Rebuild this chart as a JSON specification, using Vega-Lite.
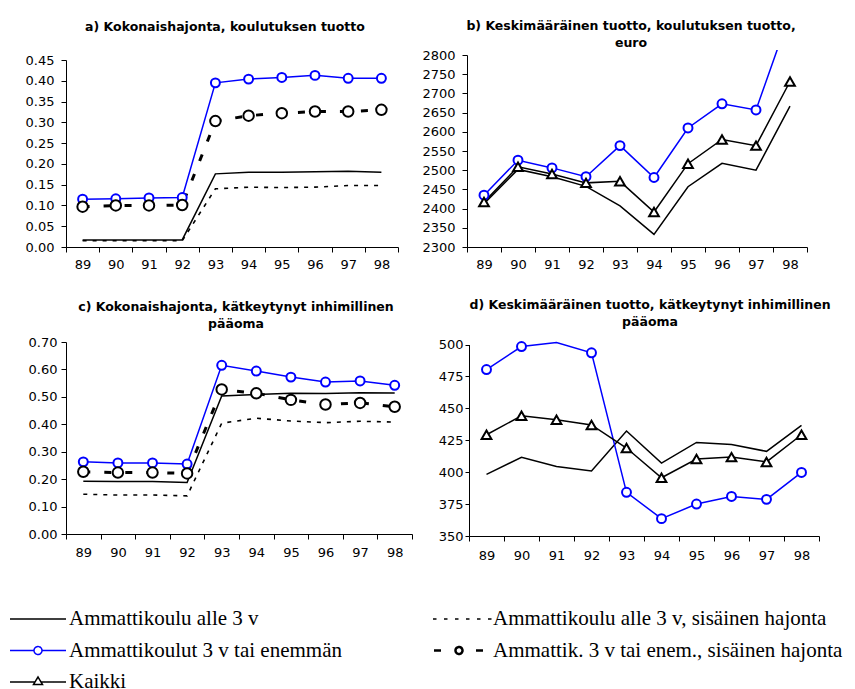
{
  "$schema": "https://vega.github.io/schema/vega-lite/v6.json",
  "background": "white",
  "padding": {"left": 25, "top": 19, "right": 5, "bottom": 5},
  "config": {
    "view": {"stroke": null},
    "font": "DejaVu Sans",
    "axis": {"domainColor": "black", "tickColor": "black", "labelColor": "black", "labelFont": "DejaVu Sans", "labelFontSize": 13, "grid": false, "title": null, "domainWidth": 1, "tickWidth": 1},
    "axisX": {"tickBand": "extent", "labelAngle": 0, "tickSize": 5, "labelPadding": 6},
    "title": {"font": "DejaVu Sans", "fontSize": 12.5, "fontWeight": "bold", "color": "black", "anchor": "middle", "frame": "group", "lineHeight": 17}
  },
  "datasets": {
    "rows": [
      {"panel": "a", "series": "Ammattikoulu alle 3 v", "year": "89", "value": 0.017},
      {"panel": "a", "series": "Ammattikoulu alle 3 v", "year": "90", "value": 0.017},
      {"panel": "a", "series": "Ammattikoulu alle 3 v", "year": "91", "value": 0.017},
      {"panel": "a", "series": "Ammattikoulu alle 3 v", "year": "92", "value": 0.017},
      {"panel": "a", "series": "Ammattikoulu alle 3 v", "year": "93", "value": 0.176},
      {"panel": "a", "series": "Ammattikoulu alle 3 v", "year": "94", "value": 0.180},
      {"panel": "a", "series": "Ammattikoulu alle 3 v", "year": "95", "value": 0.180},
      {"panel": "a", "series": "Ammattikoulu alle 3 v", "year": "96", "value": 0.181},
      {"panel": "a", "series": "Ammattikoulu alle 3 v", "year": "97", "value": 0.182},
      {"panel": "a", "series": "Ammattikoulu alle 3 v", "year": "98", "value": 0.180},
      {"panel": "a", "series": "Ammattikoulu alle 3 v, sisäinen hajonta", "year": "89", "value": 0.015},
      {"panel": "a", "series": "Ammattikoulu alle 3 v, sisäinen hajonta", "year": "90", "value": 0.015},
      {"panel": "a", "series": "Ammattikoulu alle 3 v, sisäinen hajonta", "year": "91", "value": 0.015},
      {"panel": "a", "series": "Ammattikoulu alle 3 v, sisäinen hajonta", "year": "92", "value": 0.015},
      {"panel": "a", "series": "Ammattikoulu alle 3 v, sisäinen hajonta", "year": "93", "value": 0.140},
      {"panel": "a", "series": "Ammattikoulu alle 3 v, sisäinen hajonta", "year": "94", "value": 0.144},
      {"panel": "a", "series": "Ammattikoulu alle 3 v, sisäinen hajonta", "year": "95", "value": 0.143},
      {"panel": "a", "series": "Ammattikoulu alle 3 v, sisäinen hajonta", "year": "96", "value": 0.144},
      {"panel": "a", "series": "Ammattikoulu alle 3 v, sisäinen hajonta", "year": "97", "value": 0.148},
      {"panel": "a", "series": "Ammattikoulu alle 3 v, sisäinen hajonta", "year": "98", "value": 0.148},
      {"panel": "a", "series": "Ammattikoulut 3 v tai enemmän", "year": "89", "value": 0.115},
      {"panel": "a", "series": "Ammattikoulut 3 v tai enemmän", "year": "90", "value": 0.116},
      {"panel": "a", "series": "Ammattikoulut 3 v tai enemmän", "year": "91", "value": 0.118},
      {"panel": "a", "series": "Ammattikoulut 3 v tai enemmän", "year": "92", "value": 0.119},
      {"panel": "a", "series": "Ammattikoulut 3 v tai enemmän", "year": "93", "value": 0.395},
      {"panel": "a", "series": "Ammattikoulut 3 v tai enemmän", "year": "94", "value": 0.404},
      {"panel": "a", "series": "Ammattikoulut 3 v tai enemmän", "year": "95", "value": 0.408},
      {"panel": "a", "series": "Ammattikoulut 3 v tai enemmän", "year": "96", "value": 0.413},
      {"panel": "a", "series": "Ammattikoulut 3 v tai enemmän", "year": "97", "value": 0.406},
      {"panel": "a", "series": "Ammattikoulut 3 v tai enemmän", "year": "98", "value": 0.406},
      {"panel": "a", "series": "Ammattik. 3 v tai enem., sisäinen hajonta", "year": "89", "value": 0.097},
      {"panel": "a", "series": "Ammattik. 3 v tai enem., sisäinen hajonta", "year": "90", "value": 0.100},
      {"panel": "a", "series": "Ammattik. 3 v tai enem., sisäinen hajonta", "year": "91", "value": 0.100},
      {"panel": "a", "series": "Ammattik. 3 v tai enem., sisäinen hajonta", "year": "92", "value": 0.101},
      {"panel": "a", "series": "Ammattik. 3 v tai enem., sisäinen hajonta", "year": "93", "value": 0.303},
      {"panel": "a", "series": "Ammattik. 3 v tai enem., sisäinen hajonta", "year": "94", "value": 0.316},
      {"panel": "a", "series": "Ammattik. 3 v tai enem., sisäinen hajonta", "year": "95", "value": 0.322},
      {"panel": "a", "series": "Ammattik. 3 v tai enem., sisäinen hajonta", "year": "96", "value": 0.326},
      {"panel": "a", "series": "Ammattik. 3 v tai enem., sisäinen hajonta", "year": "97", "value": 0.326},
      {"panel": "a", "series": "Ammattik. 3 v tai enem., sisäinen hajonta", "year": "98", "value": 0.330},

      {"panel": "b", "series": "Ammattikoulu alle 3 v", "year": "89", "value": 2413},
      {"panel": "b", "series": "Ammattikoulu alle 3 v", "year": "90", "value": 2502},
      {"panel": "b", "series": "Ammattikoulu alle 3 v", "year": "91", "value": 2483},
      {"panel": "b", "series": "Ammattikoulu alle 3 v", "year": "92", "value": 2458},
      {"panel": "b", "series": "Ammattikoulu alle 3 v", "year": "93", "value": 2407},
      {"panel": "b", "series": "Ammattikoulu alle 3 v", "year": "94", "value": 2333},
      {"panel": "b", "series": "Ammattikoulu alle 3 v", "year": "95", "value": 2457},
      {"panel": "b", "series": "Ammattikoulu alle 3 v", "year": "96", "value": 2518},
      {"panel": "b", "series": "Ammattikoulu alle 3 v", "year": "97", "value": 2500},
      {"panel": "b", "series": "Ammattikoulu alle 3 v", "year": "98", "value": 2667},
      {"panel": "b", "series": "Ammattikoulut 3 v tai enemmän", "year": "89", "value": 2435},
      {"panel": "b", "series": "Ammattikoulut 3 v tai enemmän", "year": "90", "value": 2526},
      {"panel": "b", "series": "Ammattikoulut 3 v tai enemmän", "year": "91", "value": 2506},
      {"panel": "b", "series": "Ammattikoulut 3 v tai enemmän", "year": "92", "value": 2483},
      {"panel": "b", "series": "Ammattikoulut 3 v tai enemmän", "year": "93", "value": 2564},
      {"panel": "b", "series": "Ammattikoulut 3 v tai enemmän", "year": "94", "value": 2481},
      {"panel": "b", "series": "Ammattikoulut 3 v tai enemmän", "year": "95", "value": 2610},
      {"panel": "b", "series": "Ammattikoulut 3 v tai enemmän", "year": "96", "value": 2673},
      {"panel": "b", "series": "Ammattikoulut 3 v tai enemmän", "year": "97", "value": 2657},
      {"panel": "b", "series": "Ammattikoulut 3 v tai enemmän", "year": "98", "value": 2908},
      {"panel": "b", "series": "Kaikki", "year": "89", "value": 2417},
      {"panel": "b", "series": "Kaikki", "year": "90", "value": 2509},
      {"panel": "b", "series": "Kaikki", "year": "91", "value": 2490},
      {"panel": "b", "series": "Kaikki", "year": "92", "value": 2467},
      {"panel": "b", "series": "Kaikki", "year": "93", "value": 2471},
      {"panel": "b", "series": "Kaikki", "year": "94", "value": 2391},
      {"panel": "b", "series": "Kaikki", "year": "95", "value": 2517},
      {"panel": "b", "series": "Kaikki", "year": "96", "value": 2580},
      {"panel": "b", "series": "Kaikki", "year": "97", "value": 2564},
      {"panel": "b", "series": "Kaikki", "year": "98", "value": 2731},

      {"panel": "c", "series": "Ammattikoulu alle 3 v", "year": "89", "value": 0.192},
      {"panel": "c", "series": "Ammattikoulu alle 3 v", "year": "90", "value": 0.191},
      {"panel": "c", "series": "Ammattikoulu alle 3 v", "year": "91", "value": 0.191},
      {"panel": "c", "series": "Ammattikoulu alle 3 v", "year": "92", "value": 0.188},
      {"panel": "c", "series": "Ammattikoulu alle 3 v", "year": "93", "value": 0.503},
      {"panel": "c", "series": "Ammattikoulu alle 3 v", "year": "94", "value": 0.509},
      {"panel": "c", "series": "Ammattikoulu alle 3 v", "year": "95", "value": 0.513},
      {"panel": "c", "series": "Ammattikoulu alle 3 v", "year": "96", "value": 0.512},
      {"panel": "c", "series": "Ammattikoulu alle 3 v", "year": "97", "value": 0.515},
      {"panel": "c", "series": "Ammattikoulu alle 3 v", "year": "98", "value": 0.514},
      {"panel": "c", "series": "Ammattikoulu alle 3 v, sisäinen hajonta", "year": "89", "value": 0.145},
      {"panel": "c", "series": "Ammattikoulu alle 3 v, sisäinen hajonta", "year": "90", "value": 0.142},
      {"panel": "c", "series": "Ammattikoulu alle 3 v, sisäinen hajonta", "year": "91", "value": 0.142},
      {"panel": "c", "series": "Ammattikoulu alle 3 v, sisäinen hajonta", "year": "92", "value": 0.139},
      {"panel": "c", "series": "Ammattikoulu alle 3 v, sisäinen hajonta", "year": "93", "value": 0.404},
      {"panel": "c", "series": "Ammattikoulu alle 3 v, sisäinen hajonta", "year": "94", "value": 0.422},
      {"panel": "c", "series": "Ammattikoulu alle 3 v, sisäinen hajonta", "year": "95", "value": 0.412},
      {"panel": "c", "series": "Ammattikoulu alle 3 v, sisäinen hajonta", "year": "96", "value": 0.406},
      {"panel": "c", "series": "Ammattikoulu alle 3 v, sisäinen hajonta", "year": "97", "value": 0.411},
      {"panel": "c", "series": "Ammattikoulu alle 3 v, sisäinen hajonta", "year": "98", "value": 0.408},
      {"panel": "c", "series": "Ammattikoulut 3 v tai enemmän", "year": "89", "value": 0.263},
      {"panel": "c", "series": "Ammattikoulut 3 v tai enemmän", "year": "90", "value": 0.259},
      {"panel": "c", "series": "Ammattikoulut 3 v tai enemmän", "year": "91", "value": 0.259},
      {"panel": "c", "series": "Ammattikoulut 3 v tai enemmän", "year": "92", "value": 0.255},
      {"panel": "c", "series": "Ammattikoulut 3 v tai enemmän", "year": "93", "value": 0.615},
      {"panel": "c", "series": "Ammattikoulut 3 v tai enemmän", "year": "94", "value": 0.594},
      {"panel": "c", "series": "Ammattikoulut 3 v tai enemmän", "year": "95", "value": 0.572},
      {"panel": "c", "series": "Ammattikoulut 3 v tai enemmän", "year": "96", "value": 0.554},
      {"panel": "c", "series": "Ammattikoulut 3 v tai enemmän", "year": "97", "value": 0.558},
      {"panel": "c", "series": "Ammattikoulut 3 v tai enemmän", "year": "98", "value": 0.542},
      {"panel": "c", "series": "Ammattik. 3 v tai enem., sisäinen hajonta", "year": "89", "value": 0.227},
      {"panel": "c", "series": "Ammattik. 3 v tai enem., sisäinen hajonta", "year": "90", "value": 0.224},
      {"panel": "c", "series": "Ammattik. 3 v tai enem., sisäinen hajonta", "year": "91", "value": 0.224},
      {"panel": "c", "series": "Ammattik. 3 v tai enem., sisäinen hajonta", "year": "92", "value": 0.221},
      {"panel": "c", "series": "Ammattik. 3 v tai enem., sisäinen hajonta", "year": "93", "value": 0.527},
      {"panel": "c", "series": "Ammattik. 3 v tai enem., sisäinen hajonta", "year": "94", "value": 0.513},
      {"panel": "c", "series": "Ammattik. 3 v tai enem., sisäinen hajonta", "year": "95", "value": 0.489},
      {"panel": "c", "series": "Ammattik. 3 v tai enem., sisäinen hajonta", "year": "96", "value": 0.472},
      {"panel": "c", "series": "Ammattik. 3 v tai enem., sisäinen hajonta", "year": "97", "value": 0.478},
      {"panel": "c", "series": "Ammattik. 3 v tai enem., sisäinen hajonta", "year": "98", "value": 0.464},

      {"panel": "d", "series": "Ammattikoulu alle 3 v", "year": "89", "value": 398.3},
      {"panel": "d", "series": "Ammattikoulu alle 3 v", "year": "90", "value": 411.6},
      {"panel": "d", "series": "Ammattikoulu alle 3 v", "year": "91", "value": 404.5},
      {"panel": "d", "series": "Ammattikoulu alle 3 v", "year": "92", "value": 400.9},
      {"panel": "d", "series": "Ammattikoulu alle 3 v", "year": "93", "value": 432.2},
      {"panel": "d", "series": "Ammattikoulu alle 3 v", "year": "94", "value": 407.1},
      {"panel": "d", "series": "Ammattikoulu alle 3 v", "year": "95", "value": 423.3},
      {"panel": "d", "series": "Ammattikoulu alle 3 v", "year": "96", "value": 421.7},
      {"panel": "d", "series": "Ammattikoulu alle 3 v", "year": "97", "value": 416.3},
      {"panel": "d", "series": "Ammattikoulu alle 3 v", "year": "98", "value": 436.6},
      {"panel": "d", "series": "Ammattikoulut 3 v tai enemmän", "year": "89", "value": 480.4},
      {"panel": "d", "series": "Ammattikoulut 3 v tai enemmän", "year": "90", "value": 498.4},
      {"panel": "d", "series": "Ammattikoulut 3 v tai enemmän", "year": "91", "value": 501.6},
      {"panel": "d", "series": "Ammattikoulut 3 v tai enemmän", "year": "92", "value": 493.5},
      {"panel": "d", "series": "Ammattikoulut 3 v tai enemmän", "year": "93", "value": 384.2},
      {"panel": "d", "series": "Ammattikoulut 3 v tai enemmän", "year": "94", "value": 363.6},
      {"panel": "d", "series": "Ammattikoulut 3 v tai enemmän", "year": "95", "value": 375.0},
      {"panel": "d", "series": "Ammattikoulut 3 v tai enemmän", "year": "96", "value": 381.0},
      {"panel": "d", "series": "Ammattikoulut 3 v tai enemmän", "year": "97", "value": 378.7},
      {"panel": "d", "series": "Ammattikoulut 3 v tai enemmän", "year": "98", "value": 399.8},
      {"panel": "d", "series": "Kaikki", "year": "89", "value": 429.3},
      {"panel": "d", "series": "Kaikki", "year": "90", "value": 444.2},
      {"panel": "d", "series": "Kaikki", "year": "91", "value": 441.0},
      {"panel": "d", "series": "Kaikki", "year": "92", "value": 437.0},
      {"panel": "d", "series": "Kaikki", "year": "93", "value": 418.9},
      {"panel": "d", "series": "Kaikki", "year": "94", "value": 395.6},
      {"panel": "d", "series": "Kaikki", "year": "95", "value": 410.3},
      {"panel": "d", "series": "Kaikki", "year": "96", "value": 411.8},
      {"panel": "d", "series": "Kaikki", "year": "97", "value": 408.0},
      {"panel": "d", "series": "Kaikki", "year": "98", "value": 429.3}
    ]
  },
  "spacing": 27,
  "vconcat": [
    {
      "spacing": 22,
      "hconcat": [
        {
          "title": {"text": "a) Kokonaishajonta, koulutuksen tuotto", "offset": 17, "dx": -7},
          "width": 332, "height": 197,
          "data": {"name": "rows"},
          "transform": [{"filter": "datum.panel == 'a'"}],
          "encoding": {
            "x": {"field": "year", "type": "ordinal", "bandPosition": 0.5, "scale": {"type": "band", "paddingInner": 0, "paddingOuter": 0}, "axis": {"labelPadding": 6}},
            "y": {"field": "value", "type": "quantitative", "scale": {"domain": [0, 0.45], "range": [197, 10], "nice": false, "zero": false}, "axis": {"values": [0, 0.05, 0.1, 0.15, 0.2, 0.25, 0.3, 0.35, 0.4, 0.45], "format": ".2f", "tickSize": 5, "labelPadding": 7}},
            "color": {
              "field": "series", "type": "nominal",
              "scale": {"domain": ["Ammattikoulu alle 3 v", "Ammattikoulu alle 3 v, sisäinen hajonta", "Ammattikoulut 3 v tai enemmän", "Ammattik. 3 v tai enem., sisäinen hajonta", "Kaikki"], "range": ["black", "black", "#0000ff", "black", "black"]},
              "legend": {
                "title": null, "orient": "none", "direction": "horizontal", "legendX": -28, "legendY": 569, "columns": 2, "columnPadding": 87, "rowPadding": 10.5,
                "labelFont": "Liberation Serif", "labelFontSize": 21, "labelColor": "black", "labelLimit": 0, "labelOffset": 50,
                "symbolSize": 400, "symbolStrokeWidth": 1.5, "symbolFillColor": "white",
                "encode": {
                  "labels": {
                    "update": {"dx": {"value": 31}}
                  },
                  "symbols": {
                    "update": {
                      "shape": {"signal": "['M-2.8,0H2.8', 'M-2.9,0h0.35m0.75,0h0.35m0.75,0h0.35m0.75,0h0.35m0.75,0h0.35m0.75,0h0.35', 'M-2.8,0H-0.4M0.4,0H2.8M-0.4,0C-0.4,-0.2209 -0.2209,-0.4 0,-0.4C0.2209,-0.4 0.4,-0.2209 0.4,0C0.4,0.2209 0.2209,0.4 0,0.4C-0.2209,0.4 -0.4,0.2209 -0.4,0Z', 'M-2.8,0H-2.1M1.4,0H2.1M-0.65,0C-0.65,-0.1933 -0.4933,-0.35 -0.3,-0.35C-0.1067,-0.35 0.05,-0.1933 0.05,0C0.05,0.1933 -0.1067,0.35 -0.3,0.35C-0.4933,0.35 -0.65,0.1933 -0.65,0Z', 'M-2.8,0H-0.32M0.32,0H2.8M-0.45,0.25L0,-0.5L0.45,0.25Z'][datum.index]"},
                      "stroke": {"signal": "['black', 'black', '#0000ff', 'black', '#000080'][datum.index]"},
                      "strokeWidth": {"signal": "[1.5, 1.5, 1.5, 2.5, 1.5][datum.index]"},
                      "strokeDash": {"value": [1, 0]},
                      "fill": {"value": "white"},
                      "opacity": {"value": 1}
                    }
                  }
                }
              }
            }
          },
          "layer": [
            {
              "transform": [{"filter": {"field": "series", "oneOf": ["Ammattikoulu alle 3 v", "Ammattikoulut 3 v tai enemmän", "Kaikki"]}}],
              "mark": {"type": "line", "clip": true, "strokeWidth": 1.5}
            },
            {
              "transform": [{"filter": {"field": "series", "equal": "Ammattikoulu alle 3 v, sisäinen hajonta"}}],
              "mark": {"type": "line", "clip": true, "strokeWidth": 1.6, "strokeDash": [4, 6]}
            },
            {
              "transform": [{"filter": {"field": "series", "equal": "Ammattik. 3 v tai enem., sisäinen hajonta"}}],
              "mark": {"type": "line", "clip": true, "strokeWidth": 3, "strokeDash": [7, 14]}
            },
            {
              "transform": [{"filter": {"field": "series", "oneOf": ["Ammattikoulut 3 v tai enemmän", "Ammattik. 3 v tai enem., sisäinen hajonta", "Kaikki"]}}, {"filter": "datum.value <= 0.45"}],
              "mark": {"type": "point", "filled": false, "fill": "white", "opacity": 1, "strokeWidth": 2},
              "encoding": {
                "shape": {"field": "series", "type": "nominal", "legend": null, "scale": {"domain": ["Ammattikoulut 3 v tai enemmän", "Ammattik. 3 v tai enem., sisäinen hajonta", "Kaikki"], "range": ["circle", "circle", "triangle-up"]}},
                "size": {"field": "series", "type": "nominal", "legend": null, "scale": {"type": "ordinal", "domain": ["Ammattikoulut 3 v tai enemmän", "Ammattik. 3 v tai enem., sisäinen hajonta", "Kaikki"], "range": [80, 110, 95]}}
              }
            }
          ]
        },
        {
          "title": {"text": ["b) Keskimääräinen tuotto, koulutuksen tuotto,", "euro"], "offset": 0, "dx": -6},
          "width": 340, "height": 197,
          "data": {"name": "rows"},
          "transform": [{"filter": "datum.panel == 'b'"}],
          "encoding": {
            "x": {"field": "year", "type": "ordinal", "bandPosition": 0.5, "scale": {"type": "band", "paddingInner": 0, "paddingOuter": 0}, "axis": {"labelPadding": 6}},
            "y": {"field": "value", "type": "quantitative", "scale": {"domain": [2300, 2800], "range": [197, 5], "nice": false, "zero": false}, "axis": {"values": [2300, 2350, 2400, 2450, 2500, 2550, 2600, 2650, 2700, 2750, 2800], "format": "d", "tickSize": 5, "labelPadding": 7}},
            "color": {"field": "series", "type": "nominal", "legend": null, "scale": {"domain": ["Ammattikoulu alle 3 v", "Ammattikoulu alle 3 v, sisäinen hajonta", "Ammattikoulut 3 v tai enemmän", "Ammattik. 3 v tai enem., sisäinen hajonta", "Kaikki"], "range": ["black", "black", "#0000ff", "black", "black"]}}
          },
          "layer": [
            {
              "mark": {"type": "line", "clip": true, "strokeWidth": 1.5}
            },
            {
              "transform": [{"filter": {"field": "series", "oneOf": ["Ammattikoulut 3 v tai enemmän", "Ammattik. 3 v tai enem., sisäinen hajonta", "Kaikki"]}}, {"filter": "datum.value <= 2800"}],
              "mark": {"type": "point", "filled": false, "fill": "white", "opacity": 1, "strokeWidth": 2},
              "encoding": {
                "shape": {"field": "series", "type": "nominal", "legend": null, "scale": {"domain": ["Ammattikoulut 3 v tai enemmän", "Ammattik. 3 v tai enem., sisäinen hajonta", "Kaikki"], "range": ["circle", "circle", "triangle-up"]}},
                "size": {"field": "series", "type": "nominal", "legend": null, "scale": {"type": "ordinal", "domain": ["Ammattikoulut 3 v tai enemmän", "Ammattik. 3 v tai enem., sisäinen hajonta", "Kaikki"], "range": [80, 110, 95]}}
              }
            }
          ]
        }
      ]
    },
    {
      "spacing": 25,
      "hconcat": [
        {
          "title": {"text": ["c) Kokonaishajonta, kätkeytynyt inhimillinen", "pääoma"], "offset": 6, "dx": -3},
          "width": 346, "height": 194,
          "data": {"name": "rows"},
          "transform": [{"filter": "datum.panel == 'c'"}],
          "encoding": {
            "x": {"field": "year", "type": "ordinal", "bandPosition": 0.5, "scale": {"type": "band", "paddingInner": 0, "paddingOuter": 0}, "axis": {"labelPadding": 7}},
            "y": {"field": "value", "type": "quantitative", "scale": {"domain": [0, 0.7], "range": [194, 2], "nice": false, "zero": false}, "axis": {"values": [0, 0.1, 0.2, 0.3, 0.4, 0.5, 0.6, 0.7], "format": ".2f", "tickSize": 5, "labelPadding": 4}},
            "color": {"field": "series", "type": "nominal", "legend": null, "scale": {"domain": ["Ammattikoulu alle 3 v", "Ammattikoulu alle 3 v, sisäinen hajonta", "Ammattikoulut 3 v tai enemmän", "Ammattik. 3 v tai enem., sisäinen hajonta", "Kaikki"], "range": ["black", "black", "#0000ff", "black", "black"]}}
          },
          "layer": [
            {
              "transform": [{"filter": {"field": "series", "oneOf": ["Ammattikoulu alle 3 v", "Ammattikoulut 3 v tai enemmän", "Kaikki"]}}],
              "mark": {"type": "line", "clip": true, "strokeWidth": 1.5}
            },
            {
              "transform": [{"filter": {"field": "series", "equal": "Ammattikoulu alle 3 v, sisäinen hajonta"}}],
              "mark": {"type": "line", "clip": true, "strokeWidth": 1.6, "strokeDash": [4, 6]}
            },
            {
              "transform": [{"filter": {"field": "series", "equal": "Ammattik. 3 v tai enem., sisäinen hajonta"}}],
              "mark": {"type": "line", "clip": true, "strokeWidth": 3, "strokeDash": [7, 14]}
            },
            {
              "transform": [{"filter": {"field": "series", "oneOf": ["Ammattikoulut 3 v tai enemmän", "Ammattik. 3 v tai enem., sisäinen hajonta", "Kaikki"]}}, {"filter": "datum.value <= 0.7"}],
              "mark": {"type": "point", "filled": false, "fill": "white", "opacity": 1, "strokeWidth": 2},
              "encoding": {
                "shape": {"field": "series", "type": "nominal", "legend": null, "scale": {"domain": ["Ammattikoulut 3 v tai enemmän", "Ammattik. 3 v tai enem., sisäinen hajonta", "Kaikki"], "range": ["circle", "circle", "triangle-up"]}},
                "size": {"field": "series", "type": "nominal", "legend": null, "scale": {"type": "ordinal", "domain": ["Ammattikoulut 3 v tai enemmän", "Ammattik. 3 v tai enem., sisäinen hajonta", "Kaikki"], "range": [80, 110, 95]}}
              }
            }
          ]
        },
        {
          "title": {"text": ["d) Keskimääräinen tuotto, kätkeytynyt inhimillinen", "pääoma"], "offset": 10, "dx": 6},
          "width": 350, "height": 196,
          "data": {"name": "rows"},
          "transform": [{"filter": "datum.panel == 'd'"}],
          "encoding": {
            "x": {"field": "year", "type": "ordinal", "bandPosition": 0.5, "scale": {"type": "band", "paddingInner": 0, "paddingOuter": 0}, "axis": {"labelPadding": 8}},
            "y": {"field": "value", "type": "quantitative", "scale": {"domain": [350, 500], "range": [196, 4.5], "nice": false, "zero": false}, "axis": {"values": [350, 375, 400, 425, 450, 475, 500], "format": "d", "tickSize": 4, "labelPadding": 2}},
            "color": {"field": "series", "type": "nominal", "legend": null, "scale": {"domain": ["Ammattikoulu alle 3 v", "Ammattikoulu alle 3 v, sisäinen hajonta", "Ammattikoulut 3 v tai enemmän", "Ammattik. 3 v tai enem., sisäinen hajonta", "Kaikki"], "range": ["black", "black", "#0000ff", "black", "black"]}}
          },
          "layer": [
            {
              "mark": {"type": "line", "clip": true, "strokeWidth": 1.5}
            },
            {
              "transform": [{"filter": {"field": "series", "oneOf": ["Ammattikoulut 3 v tai enemmän", "Ammattik. 3 v tai enem., sisäinen hajonta", "Kaikki"]}}, {"filter": "datum.value <= 500"}],
              "mark": {"type": "point", "filled": false, "fill": "white", "opacity": 1, "strokeWidth": 2},
              "encoding": {
                "shape": {"field": "series", "type": "nominal", "legend": null, "scale": {"domain": ["Ammattikoulut 3 v tai enemmän", "Ammattik. 3 v tai enem., sisäinen hajonta", "Kaikki"], "range": ["circle", "circle", "triangle-up"]}},
                "size": {"field": "series", "type": "nominal", "legend": null, "scale": {"type": "ordinal", "domain": ["Ammattikoulut 3 v tai enemmän", "Ammattik. 3 v tai enem., sisäinen hajonta", "Kaikki"], "range": [80, 110, 95]}}
              }
            }
          ]
        }
      ]
    }
  ]
}
